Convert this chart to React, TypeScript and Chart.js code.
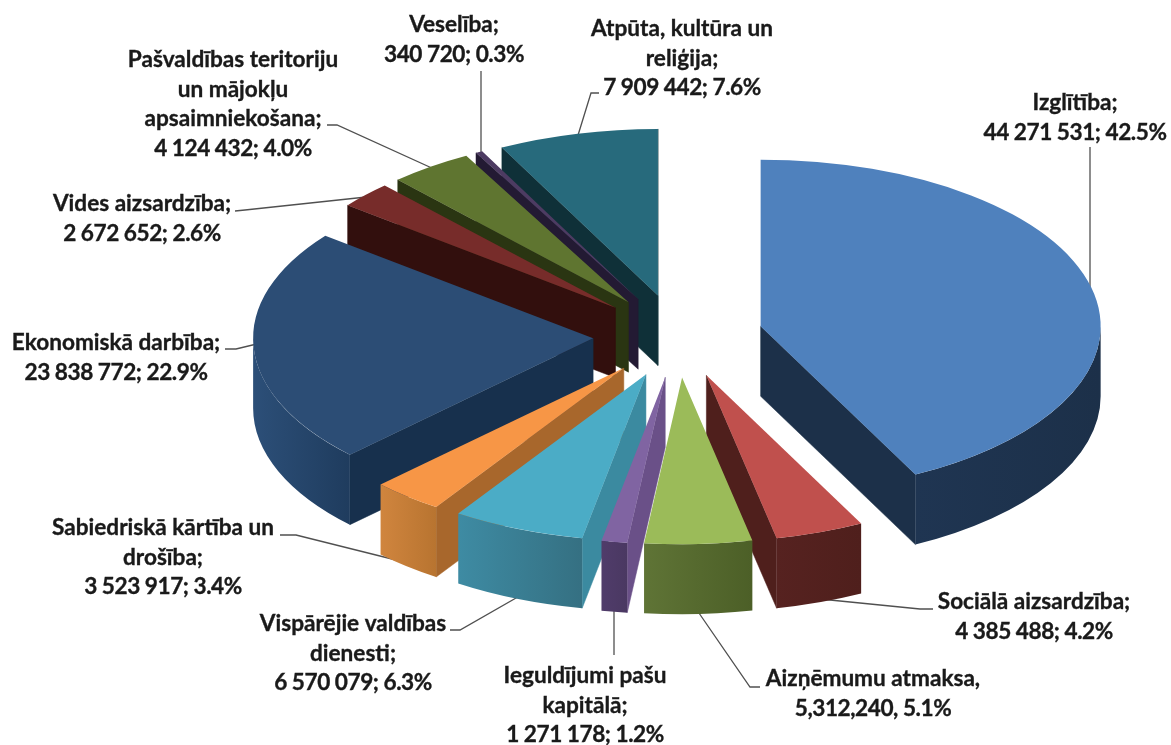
import React, { useEffect, useRef } from "react";
import { Chart, registerables } from "chart.js";

Chart.register(...registerables);

// ---- data ----
const categories = [
  "Izglītība",
  "Sociālā aizsardzība",
  "Aizņēmumu atmaksa",
  "Ieguldījumi pašu kapitālā",
  "Vispārējie valdības dienesti",
  "Sabiedriskā kārtība un drošība",
  "Ekonomiskā darbība",
  "Vides aizsardzība",
  "Pašvaldības teritoriju un mājokļu apsaimniekošana",
  "Veselība",
  "Atpūta, kultūra un reliģija",
];
const values = [
  44271531, 4385488, 5312240, 1271178, 6570079, 3523917, 23838772, 2672652,
  4124432, 340720, 7909442,
];
const labelLines = [
  ["Izglītība;", "44 271 531; 42.5%"],
  ["Sociālā aizsardzība;", "4 385 488; 4.2%"],
  ["Aizņēmumu atmaksa,", "5,312,240, 5.1%"],
  ["Ieguldījumi pašu", "kapitālā;", "1 271 178; 1.2%"],
  ["Vispārējie valdības", "dienesti;", "6 570 079; 6.3%"],
  ["Sabiedriskā kārtība un", "drošība;", "3 523 917; 3.4%"],
  ["Ekonomiskā darbība;", "23 838 772; 22.9%"],
  ["Vides aizsardzība;", "2 672 652; 2.6%"],
  ["Pašvaldības teritoriju", "un mājokļu", "apsaimniekošana;", "4 124 432; 4.0%"],
  ["Veselība;", "340 720; 0.3%"],
  ["Atpūta, kultūra un", "reliģija;", "7 909 442; 7.6%"],
];

// ---- styles ----
const topColors = ["#4f81bd", "#c0504d", "#9bbb59", "#8064a2", "#4bacc6", "#f79646", "#2c4d75", "#772c2a", "#5f7530", "#4d3b62", "#276a7c"];
const cutColors = ["#1c3049", "#4f1f1c", "#4e6128", "#6a5088", "#3b8aa0", "#a8672c", "#17304d", "#320f0d", "#2a3512", "#231a33", "#0f3038"];
const rimFrom = ["#1f3552", "#562220", "#5f7436", "#503c6a", "#3e8ba3", "#d0853e", "#2c4f78", "#320f0d", "#2a3512", "#231a33", "#0f3038"];
const rimTo = ["#1c3049", "#4f1f1c", "#4c5f27", "#4a3862", "#357082", "#b87430", "#1f3c5e", "#320f0d", "#2a3512", "#231a33", "#0f3038"];

// label anchors: centre x and first-line centre y
const labelX = [1075, 1034, 873, 585, 353, 163, 116, 142, 233, 454, 682];
const labelY = [103, 602, 679, 676, 624, 528, 343, 204, 60, 25, 29];
const leaders: number[][][] = [
  [[1090, 147], [1090, 290]],
  [[933, 609], [920, 609], [800, 597]],
  [[760, 687], [750, 687], [690, 600]],
  [[614, 655], [614, 600]],
  [[450, 630], [460, 630], [530, 590]],
  [[280, 535], [296, 535], [420, 566]],
  [[225, 349], [236, 349], [265, 342]],
  [[235, 211], [245, 210], [385, 195]],
  [[327, 125], [337, 125], [445, 174]],
  [[481, 71], [481, 160]],
  [[599, 93], [591, 93], [575, 145]],
];

const TILT = 0.49;
const DEPTH = 70;
const EXPLODE = 85;
const CENTER_Y = 336;
const WIDTH = 1171;
const HEIGHT = 745;

const pie3d = {
  id: "pie3d",
  beforeDatasetsDraw(chart: any) {
    const ctx: CanvasRenderingContext2D = chart.ctx;
    const meta = chart.getDatasetMeta(0);

    // leader lines sit behind the slices, so they stop at each slice's edge
    ctx.save();
    ctx.strokeStyle = "#505050";
    ctx.lineWidth = 1.3;
    for (const pts of leaders) {
      ctx.beginPath();
      pts.forEach((p, k) => (k ? ctx.lineTo(p[0], p[1]) : ctx.moveTo(p[0], p[1])));
      ctx.stroke();
    }
    ctx.restore();

    const geo = meta.data.map((el: any, i: number) => {
      const mid = (el.startAngle + el.endAngle) / 2;
      const cx = el.x + Math.cos(mid) * EXPLODE;
      const cy = CENTER_Y + Math.sin(mid) * EXPLODE * TILT;
      return { el, i, cx, cy, r: el.outerRadius, a0: el.startAngle, a1: el.endAngle };
    });
    geo.sort((a: any, b: any) => a.cy - b.cy);

    const face = (g: any, a: number) => {
      const ex = g.cx + Math.cos(a) * g.r;
      const ey = g.cy + Math.sin(a) * g.r * TILT;
      ctx.beginPath();
      ctx.moveTo(g.cx, g.cy);
      ctx.lineTo(ex, ey);
      ctx.lineTo(ex, ey + DEPTH);
      ctx.lineTo(g.cx, g.cy + DEPTH);
      ctx.closePath();
      ctx.fillStyle = cutColors[g.i];
      ctx.fill();
      ctx.strokeStyle = cutColors[g.i];
      ctx.lineWidth = 0.5;
      ctx.stroke();
    };

    for (const g of geo) {
      if (-Math.cos(g.a0) > 0) face(g, g.a0);
      if (Math.cos(g.a1) > 0) face(g, g.a1);

      const from = Math.max(g.a0, 0);
      const to = Math.min(g.a1, Math.PI);
      if (to > from) {
        const x0 = g.cx + Math.cos(to) * g.r;
        const x1 = g.cx + Math.cos(from) * g.r;
        const grad = ctx.createLinearGradient(x0, 0, x1, 0);
        grad.addColorStop(0, rimFrom[g.i]);
        grad.addColorStop(1, rimTo[g.i]);
        ctx.beginPath();
        ctx.ellipse(g.cx, g.cy, g.r, g.r * TILT, 0, from, to);
        ctx.ellipse(g.cx, g.cy + DEPTH, g.r, g.r * TILT, 0, to, from, true);
        ctx.closePath();
        ctx.fillStyle = grad;
        ctx.fill();
      }

      ctx.save();
      ctx.translate(g.cx, g.cy);
      ctx.scale(1, TILT);
      ctx.translate(-g.el.x, -g.el.y);
      g.el.draw(ctx);
      ctx.restore();
    }
    return false;
  },
  afterDraw(chart: any) {
    const ctx: any = chart.ctx;
    ctx.save();
    ctx.fillStyle = "#1a1a1a";
    ctx.strokeStyle = "#1a1a1a";
    ctx.lineWidth = 0.35;
    ctx.font = 'bold 22.6px Lato, "Open Sans", sans-serif';
    ctx.textAlign = "center";
    ctx.textBaseline = "middle";
    labelLines.forEach((lines, i) => {
      lines.forEach((t, k) => {
        ctx.letterSpacing = /^\d/.test(t) ? "-0.45px" : "0px";
        ctx.fillText(t, labelX[i], labelY[i] + k * 29.6);
        ctx.strokeText(t, labelX[i], labelY[i] + k * 29.6);
      });
    });
    ctx.restore();
  },
};

export default function App() {
  const ref = useRef<HTMLCanvasElement>(null);
  useEffect(() => {
    document.body.style.margin = "0";
    document.body.style.background = "#ffffff";
    const chart = new Chart(ref.current as HTMLCanvasElement, {
      type: "pie",
      data: {
        labels: categories,
        datasets: [
          {
            data: values,
            backgroundColor: topColors,
            borderWidth: 0,
            radius: 340,
          } as any,
        ],
      },
      options: {
        responsive: false,
        animation: false,
        events: [],
        layout: { padding: { left: 185, top: 0, right: 0, bottom: 0 } },
        plugins: { legend: { display: false }, tooltip: { enabled: false } },
      },
      plugins: [pie3d],
    });
    return () => chart.destroy();
  }, []);
  return (
    <div style={{ width: WIDTH, height: HEIGHT, background: "#fff", overflow: "hidden" }}>
      <canvas ref={ref} width={WIDTH} height={HEIGHT} style={{ display: "block", filter: "blur(0.45px)" }} />
    </div>
  );
}
